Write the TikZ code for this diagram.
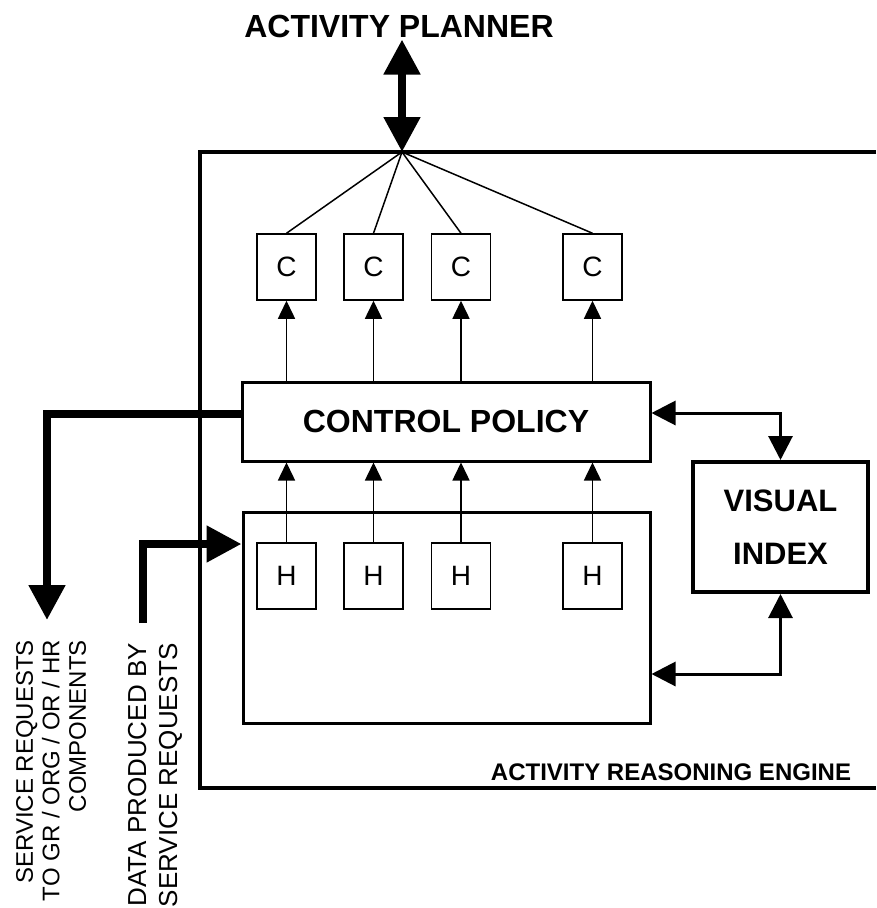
\documentclass[tikz,border=0pt]{standalone}
\usepackage{fontspec}
\setmainfont{Liberation Sans}
\usepackage{xcolor}
\usepackage{tikz}
\usetikzlibrary{arrows.meta, positioning}

\begin{document}
\begin{tikzpicture}[
    x=1pt, y=-1pt,
    bigfont/.style={font=\bfseries\fontsize{32}{36}\selectfont},
    unit/.style={
        draw,
        minimum width=59pt,
        minimum height=66pt,
        inner sep=0pt,
        line width=1.5pt,
        font=\fontsize{28}{32}\selectfont
    },
    block/.style={
        draw,
        inner sep=0pt,
        line width=3pt
    },
    frame/.style={line width=4.5pt},
    fan/.style={line width=1.5pt},
    thinarrow/.style={
        -{Triangle[length=18pt, width=17pt]},
        line width=1.5pt
    },
    medarrow/.style={
        {Triangle[length=24pt, width=24pt]}-{Triangle[length=24pt, width=24pt]},
        line width=3pt
    },
    bigarrow/.style={
        -{Triangle[length=35pt, width=35pt]},
        line width=8pt
    },
    sidetext/.style={
        rotate=90,
        anchor=east,
        align=right,
        inner sep=0pt
    }
]
\useasboundingbox (0,0) rectangle (876,908);

% Engine frame (open on the right)
\draw[frame] (876,152) -| (200,788) -- (876,788);
\node[font=\bfseries\fontsize{24}{28}\selectfont, anchor=base] (englabel) at (671,780) {ACTIVITY REASONING ENGINE};

% Planner on top
\node[bigfont, anchor=base, inner sep=2pt] (planner) at (399,37) {ACTIVITY PLANNER};
\coordinate (hub) at (402,152);
\draw[bigarrow, {Triangle[length=35pt, width=35pt]}-{Triangle[length=35pt, width=35pt]}] (planner.south -| hub) -- (hub);

% Main blocks
\node[block, minimum width=408pt, minimum height=79pt, bigfont] (policy) at (446,421.5) {CONTROL POLICY};
\node[block, minimum width=407pt, minimum height=211pt] (hbank) at (446.5,617.5) {};
\node[block, line width=4pt, minimum width=175pt, minimum height=130pt, align=center,
      font=\bfseries\fontsize{31}{53}\selectfont] (visual) at (780.5,527) {VISUAL\\INDEX};

% C and H units
\node[unit] (c1) at (286.5,267) {C};
\node[unit] (c2) at (373.5,267) {C};
\node[unit] (c3) at (461,267) {C};
\node[unit] (c4) at (592.5,267) {C};
\node[unit] (h1) at (286.5,576) {H};
\node[unit] (h2) at (373.5,576) {H};
\node[unit] (h3) at (461,576) {H};
\node[unit] (h4) at (592.5,576) {H};

% Fan and unit arrows
\foreach \i in {1,...,4} {
    \draw[fan] (hub) -- (c\i.north);
    \draw[thinarrow] (policy.north -| c\i) -- (c\i.south);
    \draw[thinarrow] (h\i.north) -- (h\i.north |- policy.south);
}

% Visual index links
\draw[medarrow] ([yshift=8.5pt]policy.east) -| (visual.north);
\draw[medarrow] ([yshift=-56.5pt]hbank.east) -| (visual.south);

% Service requests out, data in
\coordinate (srvout) at (47,620);
\coordinate (datain) at (143,623);
\draw[bigarrow] ([yshift=7.5pt]policy.west) -| (srvout);
\draw[bigarrow] (datain) |- ([yshift=73.5pt]hbank.west);

% Side texts
\node[sidetext, font=\fontsize{24}{26.5}\selectfont] (srvtext) at (51,640) {SERVICE REQUESTS\\TO GR / ORG / OR / HR\\COMPONENTS};
\node[sidetext, font=\fontsize{26}{31}\selectfont] (datatext) at (155,643) {DATA PRODUCED BY\\SERVICE REQUESTS};

\end{tikzpicture}
\end{document}
